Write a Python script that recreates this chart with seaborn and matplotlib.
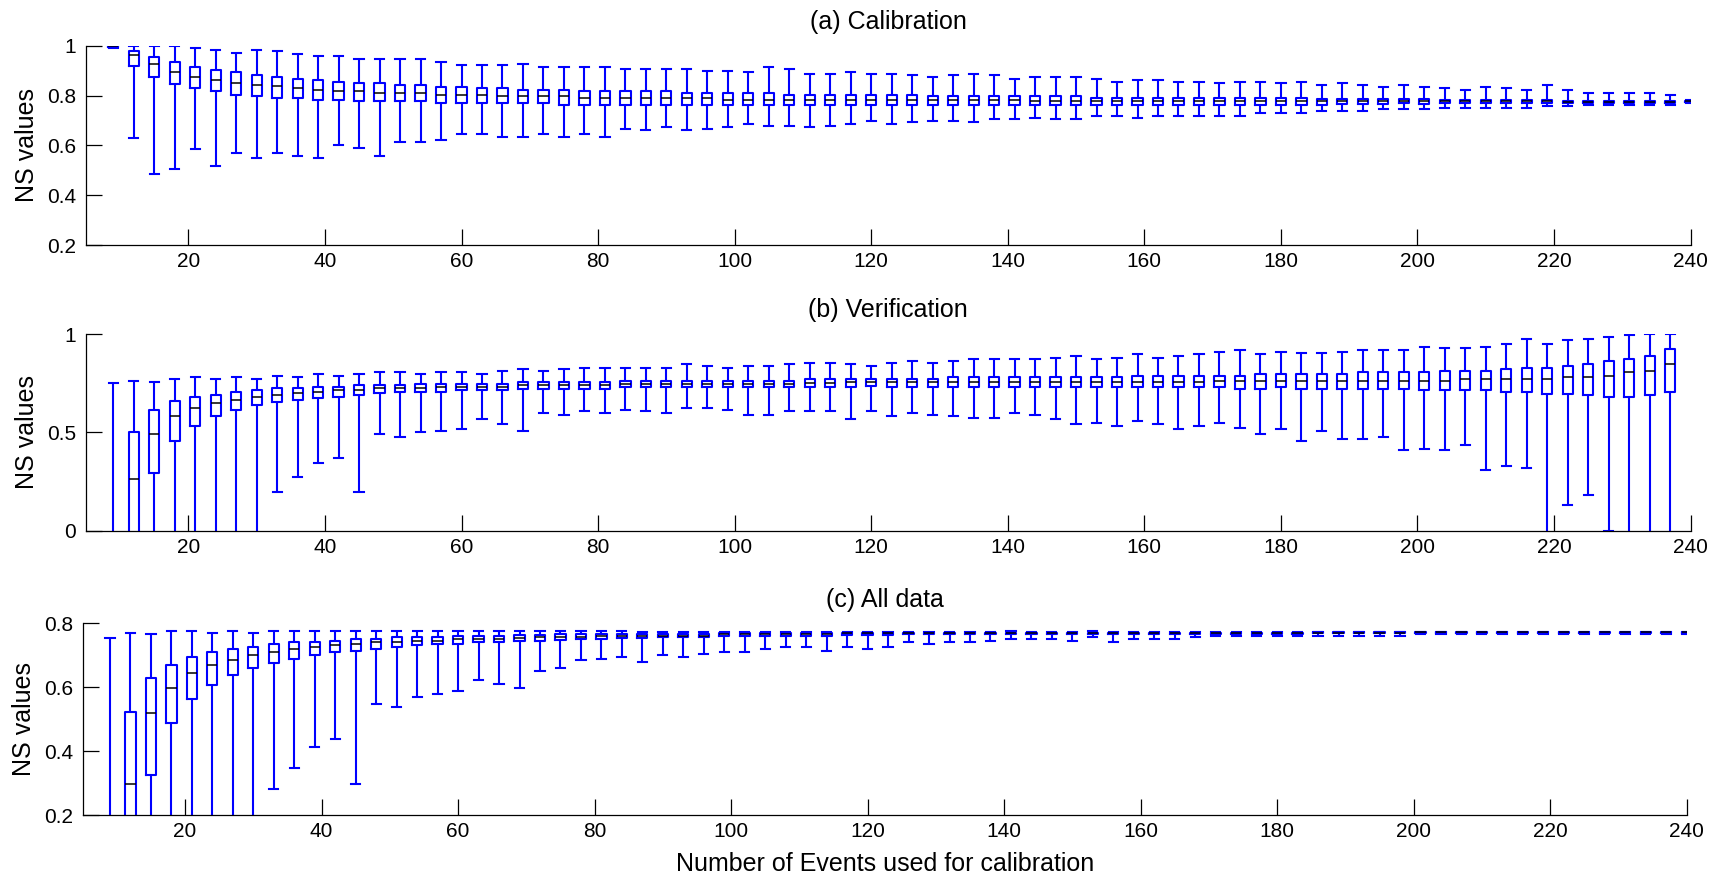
import numpy as np
import pandas as pd
import seaborn as sns
import matplotlib.pyplot as plt

# number of events used for calibration (one box every 3 events)
events = list(range(9, 241, 3))

# box statistics: upper whisker, q3, median, q1, lower whisker
# values outside the visible y-range are rough guesses (they are clipped anyway)

# (a) Calibration
cal_hi = [1.000, 1.000, 1.000, 1.000, 0.992, 0.984, 0.971, 0.984, 0.979, 0.965,
          0.960, 0.960, 0.946, 0.946, 0.946, 0.946, 0.933, 0.921, 0.921, 0.921,
          0.926, 0.913, 0.913, 0.913, 0.913, 0.906, 0.906, 0.906, 0.906, 0.900,
          0.900, 0.893, 0.913, 0.906, 0.888, 0.888, 0.893, 0.888, 0.888, 0.881,
          0.874, 0.881, 0.888, 0.881, 0.868, 0.874, 0.874, 0.874, 0.868, 0.854,
          0.861, 0.861, 0.854, 0.854, 0.849, 0.854, 0.854, 0.849, 0.854, 0.842,
          0.849, 0.842, 0.835, 0.842, 0.835, 0.829, 0.822, 0.835, 0.829, 0.822,
          0.842, 0.822, 0.810, 0.810, 0.810, 0.810, 0.803, 0.781]
cal_q3 = [0.999, 0.979, 0.953, 0.933, 0.914, 0.901, 0.894, 0.881, 0.874, 0.868,
          0.861, 0.856, 0.849, 0.849, 0.843, 0.843, 0.835, 0.835, 0.829, 0.829,
          0.823, 0.823, 0.823, 0.817, 0.817, 0.817, 0.817, 0.817, 0.810, 0.810,
          0.810, 0.810, 0.810, 0.803, 0.803, 0.803, 0.803, 0.803, 0.803, 0.803,
          0.797, 0.797, 0.797, 0.797, 0.797, 0.797, 0.797, 0.797, 0.790, 0.790,
          0.790, 0.790, 0.790, 0.790, 0.790, 0.790, 0.790, 0.790, 0.790, 0.786,
          0.786, 0.786, 0.786, 0.786, 0.786, 0.783, 0.783, 0.783, 0.783, 0.783,
          0.783, 0.779, 0.778, 0.778, 0.778, 0.778, 0.778, 0.779]
cal_med = [0.997, 0.963, 0.928, 0.896, 0.876, 0.862, 0.850, 0.843, 0.837, 0.829,
           0.823, 0.817, 0.817, 0.810, 0.810, 0.810, 0.803, 0.803, 0.803, 0.797,
           0.797, 0.797, 0.797, 0.790, 0.790, 0.790, 0.790, 0.790, 0.790, 0.790,
           0.783, 0.783, 0.783, 0.783, 0.783, 0.783, 0.783, 0.783, 0.783, 0.783,
           0.781, 0.781, 0.781, 0.781, 0.781, 0.777, 0.777, 0.777, 0.777, 0.777,
           0.777, 0.777, 0.777, 0.777, 0.777, 0.777, 0.777, 0.777, 0.777, 0.777,
           0.777, 0.777, 0.777, 0.779, 0.777, 0.777, 0.777, 0.777, 0.777, 0.777,
           0.778, 0.775, 0.775, 0.775, 0.775, 0.775, 0.775, 0.777]
cal_q1 = [0.995, 0.920, 0.874, 0.847, 0.829, 0.817, 0.802, 0.797, 0.789, 0.789,
          0.782, 0.782, 0.777, 0.777, 0.777, 0.777, 0.770, 0.770, 0.770, 0.770,
          0.770, 0.770, 0.763, 0.763, 0.763, 0.763, 0.763, 0.763, 0.763, 0.763,
          0.763, 0.763, 0.763, 0.763, 0.763, 0.763, 0.763, 0.763, 0.763, 0.763,
          0.763, 0.763, 0.763, 0.763, 0.763, 0.763, 0.763, 0.763, 0.763, 0.763,
          0.763, 0.763, 0.763, 0.763, 0.763, 0.763, 0.763, 0.763, 0.763, 0.763,
          0.766, 0.766, 0.766, 0.769, 0.766, 0.770, 0.770, 0.770, 0.770, 0.770,
          0.770, 0.770, 0.769, 0.769, 0.769, 0.770, 0.770, 0.774]
cal_lo = [0.992, 0.628, 0.485, 0.505, 0.584, 0.517, 0.569, 0.550, 0.569, 0.557,
          0.550, 0.603, 0.589, 0.557, 0.615, 0.615, 0.621, 0.647, 0.647, 0.635,
          0.635, 0.647, 0.635, 0.647, 0.635, 0.667, 0.660, 0.674, 0.660, 0.667,
          0.674, 0.686, 0.679, 0.679, 0.674, 0.679, 0.686, 0.699, 0.686, 0.692,
          0.699, 0.699, 0.692, 0.706, 0.706, 0.711, 0.706, 0.706, 0.718, 0.718,
          0.711, 0.718, 0.718, 0.718, 0.718, 0.718, 0.731, 0.731, 0.731, 0.738,
          0.738, 0.738, 0.744, 0.744, 0.744, 0.751, 0.751, 0.751, 0.751, 0.751,
          0.758, 0.758, 0.763, 0.763, 0.763, 0.761, 0.761, 0.772]

# (b) Verification (no verification events left at 240)
ver_hi = [0.752, 0.761, 0.756, 0.771, 0.780, 0.771, 0.780, 0.771, 0.788, 0.780,
          0.797, 0.788, 0.797, 0.805, 0.805, 0.797, 0.805, 0.805, 0.797, 0.812,
          0.820, 0.812, 0.820, 0.829, 0.829, 0.829, 0.829, 0.829, 0.846, 0.837,
          0.829, 0.837, 0.837, 0.846, 0.854, 0.854, 0.846, 0.837, 0.854, 0.863,
          0.854, 0.863, 0.871, 0.871, 0.871, 0.871, 0.880, 0.888, 0.871, 0.880,
          0.897, 0.880, 0.888, 0.897, 0.910, 0.919, 0.897, 0.910, 0.902, 0.902,
          0.910, 0.919, 0.919, 0.919, 0.936, 0.927, 0.927, 0.936, 0.951, 0.976,
          0.951, 0.968, 0.976, 0.986, 0.993, 0.998, 0.998, np.nan]
ver_q3 = [-0.10, 0.500, 0.615, 0.658, 0.681, 0.690, 0.707, 0.715, 0.724, 0.724,
          0.732, 0.732, 0.739, 0.739, 0.739, 0.747, 0.747, 0.747, 0.747, 0.747,
          0.756, 0.756, 0.756, 0.756, 0.756, 0.763, 0.763, 0.763, 0.763, 0.763,
          0.763, 0.763, 0.763, 0.763, 0.771, 0.771, 0.771, 0.771, 0.771, 0.771,
          0.771, 0.780, 0.780, 0.780, 0.780, 0.780, 0.780, 0.780, 0.780, 0.780,
          0.788, 0.788, 0.788, 0.788, 0.788, 0.788, 0.797, 0.797, 0.797, 0.797,
          0.797, 0.805, 0.805, 0.805, 0.805, 0.814, 0.814, 0.814, 0.820, 0.829,
          0.829, 0.837, 0.846, 0.863, 0.871, 0.886, 0.925, np.nan]
ver_med = [-0.60, 0.263, 0.492, 0.583, 0.624, 0.649, 0.664, 0.681, 0.690, 0.698,
           0.707, 0.715, 0.715, 0.724, 0.724, 0.724, 0.732, 0.732, 0.732, 0.732,
           0.739, 0.739, 0.739, 0.739, 0.739, 0.747, 0.747, 0.747, 0.747, 0.747,
           0.747, 0.747, 0.747, 0.747, 0.753, 0.753, 0.756, 0.756, 0.756, 0.756,
           0.756, 0.756, 0.756, 0.756, 0.756, 0.756, 0.756, 0.756, 0.756, 0.756,
           0.756, 0.756, 0.756, 0.756, 0.763, 0.763, 0.763, 0.763, 0.763, 0.763,
           0.763, 0.763, 0.763, 0.763, 0.763, 0.763, 0.771, 0.771, 0.771, 0.771,
           0.771, 0.780, 0.780, 0.788, 0.805, 0.814, 0.846, np.nan]
ver_q1 = [-1.50, -0.20, 0.293, 0.458, 0.532, 0.583, 0.615, 0.641, 0.656, 0.664,
          0.673, 0.681, 0.690, 0.698, 0.707, 0.707, 0.707, 0.715, 0.715, 0.714,
          0.720, 0.720, 0.720, 0.720, 0.720, 0.731, 0.731, 0.731, 0.731, 0.731,
          0.731, 0.731, 0.731, 0.731, 0.731, 0.731, 0.731, 0.736, 0.731, 0.731,
          0.731, 0.731, 0.731, 0.731, 0.731, 0.731, 0.731, 0.731, 0.731, 0.731,
          0.731, 0.731, 0.731, 0.731, 0.731, 0.722, 0.722, 0.731, 0.722, 0.722,
          0.722, 0.722, 0.722, 0.722, 0.714, 0.714, 0.714, 0.714, 0.705, 0.705,
          0.697, 0.697, 0.688, 0.680, 0.680, 0.688, 0.705, np.nan]
ver_lo = [-4.00, -3.00, -2.00, -1.50, -1.00, -0.80, -0.60, -0.30, 0.197, 0.271,
          0.344, 0.371, 0.197, 0.492, 0.475, 0.500, 0.508, 0.517, 0.566, 0.541,
          0.508, 0.600, 0.590, 0.607, 0.598, 0.615, 0.607, 0.598, 0.624, 0.624,
          0.615, 0.590, 0.590, 0.607, 0.607, 0.607, 0.566, 0.607, 0.581, 0.598,
          0.590, 0.581, 0.573, 0.573, 0.598, 0.590, 0.566, 0.541, 0.549, 0.532,
          0.558, 0.541, 0.517, 0.532, 0.549, 0.524, 0.492, 0.517, 0.458, 0.508,
          0.466, 0.466, 0.475, 0.408, 0.417, 0.408, 0.434, 0.310, 0.327, 0.319,
          -0.30, 0.131, 0.180, 0.000, -0.50, -0.70, -1.00, np.nan]

# (c) All data
all_hi = [0.755, 0.770, 0.767, 0.776, 0.776, 0.770, 0.776, 0.770, 0.776, 0.776,
          0.776, 0.776, 0.776, 0.776, 0.776, 0.776, 0.776, 0.776, 0.776, 0.776,
          0.776, 0.776, 0.776, 0.776, 0.776, 0.776, 0.773, 0.773, 0.773, 0.773,
          0.773, 0.773, 0.773, 0.773, 0.773, 0.773, 0.773, 0.773, 0.773, 0.773,
          0.773, 0.773, 0.773, 0.773, 0.775, 0.773, 0.773, 0.773, 0.775, 0.773,
          0.773, 0.773, 0.773, 0.773, 0.773, 0.773, 0.773, 0.773, 0.773, 0.774,
          0.774, 0.774, 0.774, 0.774, 0.774, 0.774, 0.774, 0.774, 0.774, 0.774,
          0.774, 0.774, 0.774, 0.774, 0.774, 0.774, 0.774, 0.774]
all_q3 = [0.150, 0.523, 0.630, 0.670, 0.695, 0.710, 0.721, 0.726, 0.736, 0.741,
          0.741, 0.746, 0.751, 0.751, 0.756, 0.756, 0.756, 0.761, 0.761, 0.761,
          0.765, 0.765, 0.767, 0.767, 0.767, 0.767, 0.767, 0.767, 0.767, 0.767,
          0.771, 0.771, 0.771, 0.771, 0.771, 0.771, 0.771, 0.771, 0.771, 0.771,
          0.771, 0.771, 0.771, 0.771, 0.771, 0.771, 0.771, 0.771, 0.771, 0.771,
          0.771, 0.771, 0.771, 0.771, 0.771, 0.771, 0.771, 0.771, 0.771, 0.773,
          0.773, 0.773, 0.773, 0.773, 0.773, 0.773, 0.773, 0.773, 0.773, 0.773,
          0.773, 0.773, 0.773, 0.773, 0.773, 0.773, 0.773, 0.773]
all_med = [-0.10, 0.296, 0.518, 0.599, 0.646, 0.671, 0.685, 0.701, 0.710, 0.721,
           0.726, 0.731, 0.736, 0.741, 0.741, 0.746, 0.746, 0.751, 0.751, 0.751,
           0.754, 0.756, 0.758, 0.758, 0.761, 0.761, 0.761, 0.761, 0.761, 0.761,
           0.767, 0.767, 0.767, 0.767, 0.767, 0.767, 0.769, 0.769, 0.769, 0.769,
           0.769, 0.769, 0.769, 0.769, 0.769, 0.769, 0.769, 0.769, 0.769, 0.769,
           0.769, 0.769, 0.769, 0.769, 0.769, 0.769, 0.769, 0.769, 0.769, 0.771,
           0.771, 0.771, 0.771, 0.771, 0.772, 0.772, 0.772, 0.772, 0.772, 0.772,
           0.772, 0.772, 0.772, 0.772, 0.772, 0.772, 0.772, 0.772]
all_q1 = [-0.50, 0.100, 0.326, 0.487, 0.563, 0.608, 0.638, 0.659, 0.675, 0.689,
          0.700, 0.710, 0.715, 0.721, 0.726, 0.731, 0.736, 0.736, 0.741, 0.741,
          0.744, 0.746, 0.749, 0.751, 0.751, 0.754, 0.754, 0.756, 0.756, 0.756,
          0.761, 0.761, 0.761, 0.761, 0.761, 0.761, 0.765, 0.765, 0.765, 0.766,
          0.766, 0.766, 0.766, 0.766, 0.766, 0.766, 0.766, 0.766, 0.766, 0.766,
          0.766, 0.766, 0.766, 0.766, 0.766, 0.766, 0.766, 0.766, 0.766, 0.769,
          0.769, 0.769, 0.769, 0.769, 0.770, 0.770, 0.770, 0.770, 0.770, 0.770,
          0.770, 0.770, 0.770, 0.770, 0.770, 0.770, 0.770, 0.770]
all_lo = [-2.00, -1.50, -1.00, -0.70, -0.50, -0.30, -0.20, 0.100, 0.280, 0.346,
          0.412, 0.437, 0.296, 0.547, 0.538, 0.568, 0.579, 0.588, 0.624, 0.609,
          0.599, 0.650, 0.659, 0.685, 0.689, 0.695, 0.680, 0.700, 0.695, 0.705,
          0.710, 0.710, 0.721, 0.726, 0.726, 0.715, 0.726, 0.721, 0.726, 0.741,
          0.735, 0.741, 0.741, 0.746, 0.751, 0.751, 0.751, 0.746, 0.756, 0.741,
          0.751, 0.751, 0.751, 0.756, 0.761, 0.761, 0.761, 0.761, 0.761, 0.761,
          0.761, 0.761, 0.761, 0.761, 0.768, 0.768, 0.768, 0.768, 0.768, 0.768,
          0.768, 0.768, 0.768, 0.768, 0.768, 0.768, 0.768, 0.768]

titles = ['(a) Calibration', '(b) Verification', '(c) All data']
xticks = [20, 40, 60, 80, 100, 120, 140, 160, 180, 200, 220, 240]
yticks_a = [0.2, 0.4, 0.6, 0.8, 1.0]
ylabels_a = ['0.2', '0.4', '0.6', '0.8', '1']
yticks_b = [0.0, 0.5, 1.0]
ylabels_b = ['0', '0.5', '1']
yticks_c = [0.2, 0.4, 0.6, 0.8]
ylabels_c = ['0.2', '0.4', '0.6', '0.8']


def to_long(lo, q1, med, q3, hi):
    # five points per box: with whiskers at the 0/100 percentiles the
    # box plot reproduces exactly these statistics
    rows = []
    for i, n in enumerate(events):
        vals = [lo[i], q1[i], med[i], q3[i], hi[i]]
        if np.isnan(vals).any():
            continue
        for v in vals:
            rows.append({'events': n, 'ns': v})
    return pd.DataFrame(rows)


panels = [
    (to_long(cal_lo, cal_q1, cal_med, cal_q3, cal_hi), (0.2, 1.0), yticks_a, ylabels_a),
    (to_long(ver_lo, ver_q1, ver_med, ver_q3, ver_hi), (0.0, 1.0), yticks_b, ylabels_b),
    (to_long(all_lo, all_q1, all_med, all_q3, all_hi), (0.2, 0.8), yticks_c, ylabels_c),
]

plt.rcParams['font.family'] = ['Liberation Sans', 'DejaVu Sans']

fig = plt.figure(figsize=(17.26, 8.76), dpi=100)
rects = [
    [0.0498, 0.7203, 0.9297, 0.2275],
    [0.0498, 0.3942, 0.9297, 0.2245],
    [0.0479, 0.0696, 0.9293, 0.2188],
]

for k, (df, ylim, yt, ytl) in enumerate(panels):
    ax = fig.add_axes(rects[k])
    sns.boxplot(data=df, x='events', y='ns', native_scale=True, whis=(0, 100),
                width=0.5, fill=False, color='blue', linewidth=1.5,
                showfliers=False, capwidths=1.35,
                medianprops={'color': 'black', 'linewidth': 1.1},
                ax=ax)
    ax.set_xlim(5, 240)
    ax.set_ylim(*ylim)
    ax.set_xticks(xticks)
    ax.set_xticklabels([str(t) for t in xticks])
    ax.set_yticks(yt)
    ax.set_yticklabels(ytl)
    ax.tick_params(direction='in', length=11.5, width=0.9, labelsize=15)
    ax.tick_params(axis='x', pad=5)
    ax.tick_params(axis='y', pad=7)
    for side in ['top', 'right']:
        ax.spines[side].set_visible(False)
    for side in ['left', 'bottom']:
        ax.spines[side].set_linewidth(0.9)
    ax.set_title(titles[k], fontsize=18, pad=12)
    ax.set_ylabel('NS values', fontsize=18)
    ax.yaxis.set_label_coords(-0.029, 0.5)
    ax.set_xlabel('')

ax.set_xlabel('Number of Events used for calibration', fontsize=18, labelpad=8)

fig.savefig('out.png', dpi=100)
